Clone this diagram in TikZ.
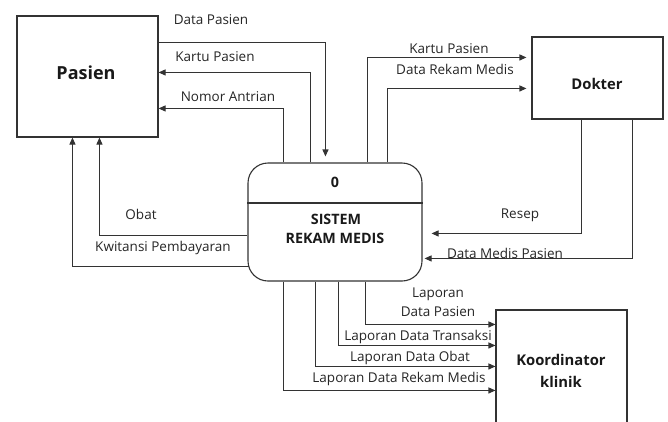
\documentclass[tikz,border=0pt]{standalone}
\usepackage{fontspec}
\setmainfont{Open Sans}
\usetikzlibrary{arrows.meta,calc}
\begin{document}
\begin{tikzpicture}[x=1pt,y=-1pt,
  flow/.style={draw=black!80, line width=1.1pt, -{Triangle[length=7pt,width=6pt]}},
  entity/.style={draw=black!80, line width=1.1pt, inner sep=0pt},
  lbl/.style={font=\fontsize{13.5}{15}\selectfont, text=black!85, inner sep=0pt},
  bigttl/.style={font=\fontsize{18}{20}\selectfont\bfseries, text=black!90, inner sep=0pt},
  ttl/.style={font=\fontsize{14.8}{17}\selectfont\bfseries, text=black!90, inner sep=0pt},
  ptl/.style={font=\fontsize{14.3}{16}\selectfont\bfseries, text=black!90, inner sep=0pt}]
\useasboundingbox (0,0) rectangle (668,421);
\clip (0,0) rectangle (668,421);

% external entities and the process
\node[entity, minimum width=141pt, minimum height=121pt] (pasien) at (87.5,76.5) {};
\node[entity, minimum width=131pt, minimum height=82pt] (dokter) at (597.5,78) {};
\node[entity, minimum width=131pt, minimum height=200pt] (koord) at (561.5,410) {};
\node[entity, rounded corners=20pt, minimum width=174pt, minimum height=118pt] (proc) at (335,222) {};
\draw[black!80, line width=1.1pt] (proc.west |- 0,203) -- (proc.east |- 0,203);

\node[bigttl] at (86,73) {Pasien};
\node[ttl] at (597,84) {Dokter};
\node[ttl] at (561,360) {Koordinator};
\node[ttl] at (561,382) {klinik};
\node[ptl] at (335,182) {0};
\node[ptl] at (336,219) {SISTEM};
\node[ptl] at (335,238) {REKAM MEDIS};

% flows between Pasien and the process
\draw[flow] ([yshift=-27pt]pasien.north east) -| ([xshift=78pt,yshift=6pt]proc.north west);
\draw[flow] ([xshift=63pt]proc.north west) |- ([yshift=-57pt]pasien.north east);
\draw[flow] ([xshift=36pt]proc.north west) |- ([yshift=-93pt]pasien.north east);
\draw[flow] ([yshift=-73pt]proc.north west) -| ([xshift=83pt]pasien.south west);
\draw[flow] ([xshift=2pt,yshift=-104pt]proc.north west) -| ([xshift=56pt]pasien.south west);

\node[lbl] at (211,20) {Data Pasien};
\node[lbl] at (215,57) {Kartu Pasien};
\node[lbl] at (228,97) {Nomor Antrian};
\node[lbl] at (141,214) {Obat};
\node[lbl] at (163,248) {Kwitansi Pembayaran};

% flows between the process and Dokter
\draw[flow] ([xshift=120pt]proc.north west) |- ([xshift=-5pt,yshift=-21pt]dokter.north west);
\draw[flow] ([xshift=140pt]proc.north west) |- ([xshift=-5pt,yshift=-52pt]dokter.north west);
\draw[flow] ([xshift=50pt]dokter.south west) |- ([xshift=9pt,yshift=-71pt]proc.north east);
\draw[flow] ([xshift=101pt]dokter.south west) |- ([xshift=2pt,yshift=-96pt]proc.north east);

\node[lbl] at (449,49) {Kartu Pasien};
\node[lbl] at (455,69) {Data Rekam Medis};
\node[lbl] at (520,215) {Resep};
\node[lbl] at (505,253) {Data Medis Pasien};

% reports to Koordinator klinik
\draw[flow] ([xshift=118pt]proc.south west) |- ([yshift=-15pt]koord.north west);
\draw[flow] ([xshift=91pt]proc.south west) |- ([yshift=-36pt]koord.north west);
\draw[flow] ([xshift=68pt]proc.south west) |- ([yshift=-57pt]koord.north west);
\draw[flow] ([xshift=36pt]proc.south west) |- ([yshift=-81pt]koord.north west);

\node[lbl] at (438,294) {Laporan};
\node[lbl] at (438,312) {Data Pasien};
\node[lbl] at (418,337) {Laporan Data Transaksi};
\node[lbl] at (410,358) {Laporan Data Obat};
\node[lbl] at (399,379) {Laporan Data Rekam Medis};
\end{tikzpicture}
\end{document}
